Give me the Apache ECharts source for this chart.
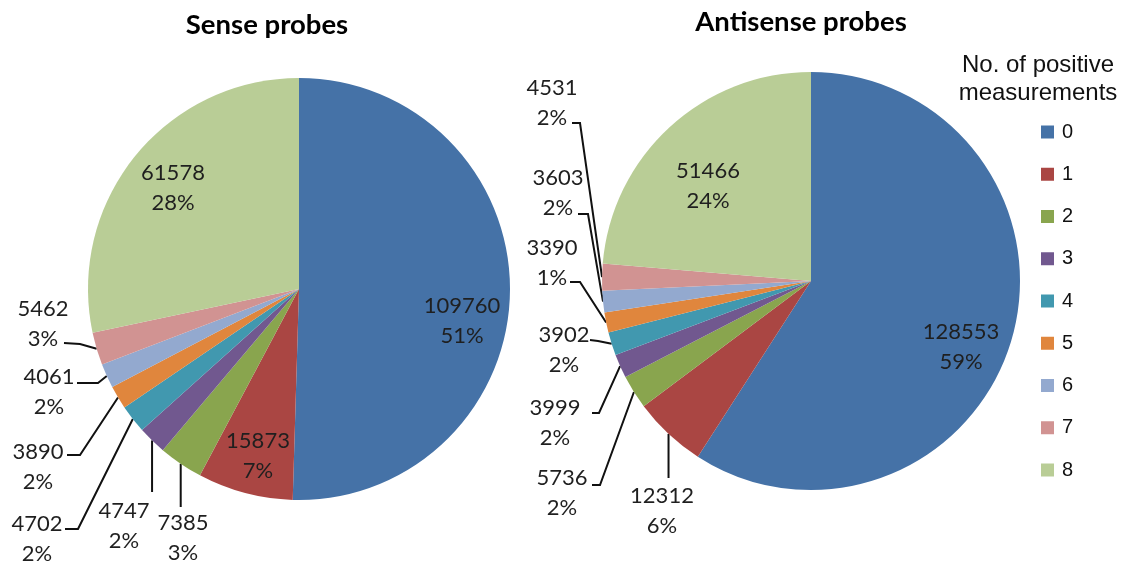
<!DOCTYPE html>
<html>
<head>
<meta charset="utf-8">
<script src="https://cdn.jsdelivr.net/npm/echarts@6/dist/echarts.min.js"></script>
<style>
html,body{margin:0;padding:0;background:#fff;}
#chart{width:1121px;height:562px;}
</style>
</head>
<body>
<div id="chart"></div>
<script>
// ---- data ----
const categories = ['0', '1', '2', '3', '4', '5', '6', '7', '8'];
const senseValues = [109760, 15873, 7385, 4747, 4702, 3890, 4061, 5462, 61578];
const antisenseValues = [128553, 12312, 5736, 3999, 3902, 3390, 3603, 4531, 51466];
const pieTitles = ['Sense probes', 'Antisense probes'];
const legendTitle = 'No. of positive\nmeasurements';

// ---- styling / layout ----
const colors = ['#4572A7', '#AA4643', '#89A54E', '#71588F', '#4198AF', '#E0863D', '#93A9CF', '#D19392', '#B9CD96'];
const pieGeom = [
  { center: [299, 289], radius: 211 },
  { center: [811, 281], radius: 209 }
];
const insideIdx = [[0, 1, 8], [0, 8]];
// label centre offsets from pie centre
const labelOffsets = [
  [[163, 32], [-41, 167], [-116, 249], [-175, 237], [-262, 250], [-261, 178], [-250, 103], [-256, 35], [-126, -101]],
  [[150, 66], [-149, 230], [-249, 212], [-256, 142], [-247, 69], [-259, -18], [-253, -88], [-259, -178], [-103, -95]]
];
// leader line points (after slice-edge start), offsets from pie centre; null x = keep start x
const leaderPts = [
  { 2: [[null, 218]], 3: [[null, 203]], 4: [[-221, 240], [-234, 240]], 5: [[-219, 166], [-232, 166]],
    6: [[-201, 94], [-222, 94]], 7: [[-219, 55], [-235, 54]] },
  { 1: [[null, 197]], 2: [[-211, 204], [-219, 204]], 3: [[-212, 132], [-219, 132]], 4: [[-213, 60], [-221, 59]],
    5: [[-231, 1], [-241, 1]], 6: [[-223, -67], [-233, -67]], 7: [[-231, -158], [-239, -158]] }
];

const chart = echarts.init(document.getElementById('chart'), null, { renderer: 'canvas' });

function buildSeries(si, values) {
  const g = pieGeom[si];
  return {
    type: 'pie',
    name: pieTitles[si],
    center: g.center,
    radius: g.radius,
    startAngle: 90,
    clockwise: true,
    percentPrecision: 0,
    avoidLabelOverlap: false,
    animation: false,
    silent: true,
    emphasis: { disabled: true },
    itemStyle: { borderWidth: 0 },
    data: categories.map((c, i) => {
      const item = { name: c, value: values[i] };
      if (insideIdx[si].indexOf(i) >= 0) {
        item.label = { position: 'inside' };
        item.labelLine = { show: false };
      }
      return item;
    }),
    label: {
      show: true,
      position: 'outside',
      formatter: p => p.value + '\n' + p.percent + '%',
      fontFamily: 'Lato',
      fontSize: 22,
      lineHeight: 30,
      color: '#1f1f1f',
      align: 'center'
    },
    labelLine: {
      show: true,
      length: 10,
      length2: 10,
      lineStyle: { color: '#111', width: 2 }
    },
    labelLayout: function (params) {
      const idx = params.dataIndex;
      const off = labelOffsets[si][idx];
      const cx = g.center[0], cy = g.center[1];
      const res = {
        x: cx + off[0],
        y: cy + off[1],
        align: 'center',
        verticalAlign: 'middle'
      };
      const lp = leaderPts[si][idx];
      if (lp && params.labelLinePoints && params.labelLinePoints[0]) {
        const start = params.labelLinePoints[0];
        const pts = [[start[0], start[1]]];
        lp.forEach(p => {
          pts.push([p[0] == null ? start[0] : cx + p[0], cy + p[1]]);
        });
        res.labelLinePoints = pts;
      }
      return res;
    }
  };
}

chart.setOption({
  color: colors,
  animation: false,
  title: [
    { text: pieTitles[0], left: 267, top: 11, textAlign: 'center', padding: 0,
      textStyle: { fontFamily: 'Lato', fontWeight: 'bold', fontSize: 27.5, color: '#000' } },
    { text: pieTitles[1], left: 801, top: 8, textAlign: 'center', padding: 0,
      textStyle: { fontFamily: 'Lato', fontWeight: 'bold', fontSize: 27.5, color: '#000' } },
    { text: legendTitle, left: 1038, top: 51, textAlign: 'center', padding: 0,
      textStyle: { fontFamily: 'Liberation Sans', fontWeight: 'normal', fontSize: 24, lineHeight: 28, color: '#111' } }
  ],
  legend: {
    orient: 'vertical',
    left: 1041,
    top: 122,
    padding: 0,
    data: categories,
    icon: 'rect',
    itemWidth: 13,
    itemHeight: 13,
    itemGap: 22.25,
    selectedMode: false,
    textStyle: { fontFamily: 'Liberation Sans', fontSize: 20, lineHeight: 20, color: '#111', padding: [0, 0, 0, 3] }
  },
  series: [buildSeries(0, senseValues), buildSeries(1, antisenseValues)]
});
</script>
</body>
</html>
